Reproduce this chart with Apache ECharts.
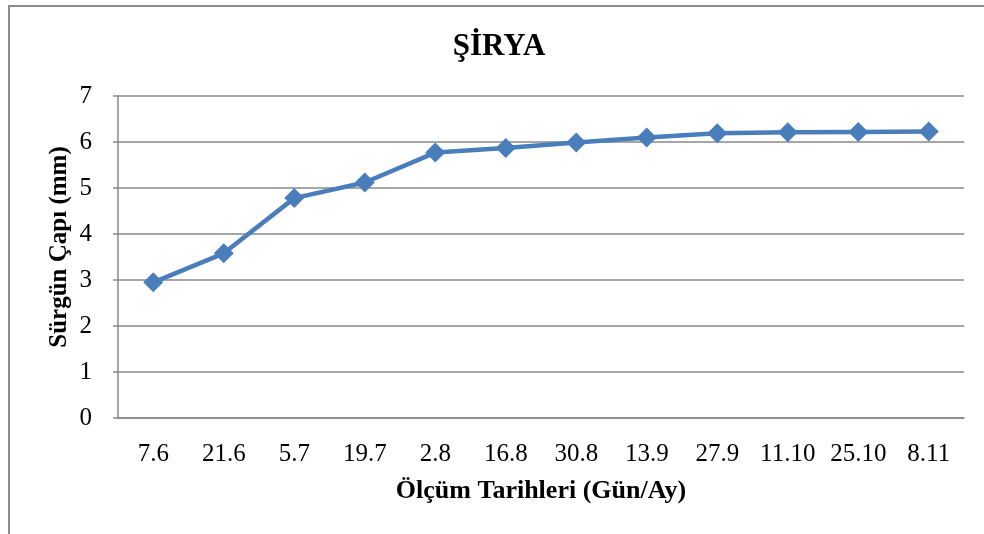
<!DOCTYPE html>
<html><head><meta charset="utf-8">
<script src="https://cdn.jsdelivr.net/npm/echarts@6/dist/echarts.min.js"></script>
<style>html,body{margin:0;padding:0;background:#fff}#c{width:984px;height:534px}</style>
</head><body><div id="c"></div>
<script>
var categories = ['7.6','21.6','5.7','19.7','2.8','16.8','30.8','13.9','27.9','11.10','25.10','8.11'];
var values = [2.95, 3.58, 4.78, 5.12, 5.77, 5.87, 5.99, 6.10, 6.19, 6.21, 6.22, 6.23];
var yTicks = [0,1,2,3,4,5,6,7];
var titleText = 'ŞİRYA';
var xTitle = 'Ölçüm Tarihleri (Gün/Ay)';
var yTitle = 'Sürgün Çapı (mm)';

var chart = echarts.init(document.getElementById('c'), null, {renderer:'canvas'});
var font = '"Liberation Serif", "Times New Roman", serif';
chart.setOption({
  animation:false,
  backgroundColor:'#fff',
  graphic:[
    {type:'rect', shape:{x:9,y:6,width:990,height:540}, style:{fill:'none', stroke:'#8c8c8c', lineWidth:2}, silent:true},
    {type:'text', x:499, y:47, style:{text:titleText, fontFamily:font, fontWeight:'bold', fontSize:31, fill:'#000', textAlign:'center', textVerticalAlign:'middle'}},
    {type:'text', x:60, y:247, rotation:Math.PI/2, style:{text:yTitle, fontFamily:font, fontWeight:'bold', fontSize:25, fill:'#000', textAlign:'center', textVerticalAlign:'middle'}}
  ],
  grid:{left:118, right:20, top:96, bottom:116},
  xAxis:{type:'category', data:categories, boundaryGap:true,
    name:xTitle, nameLocation:'middle', nameGap:60,
    nameTextStyle:{fontFamily:font, fontWeight:'bold', fontSize:26, color:'#000'},
    axisLine:{lineStyle:{color:'#888', width:1.5}}, axisTick:{show:false},
    axisLabel:{fontFamily:font, fontSize:25, color:'#000', margin:24, interval:0}},
  yAxis:{type:'value', min:yTicks[0], max:yTicks[yTicks.length-1], interval:1,
    axisLine:{show:true, lineStyle:{color:'#888', width:1.5}},
    axisTick:{show:true, length:5, lineStyle:{color:'#888', width:1.5}},
    splitLine:{lineStyle:{color:'#888', width:1.5}},
    axisLabel:{fontFamily:font, fontSize:25, color:'#000', margin:26}},
  series:[{type:'line', data:values, symbol:'diamond', symbolSize:[20,20],
    lineStyle:{color:'#4a7ebb', width:4.5}, itemStyle:{color:'#4a7ebb'}}]
});
</script></body></html>
